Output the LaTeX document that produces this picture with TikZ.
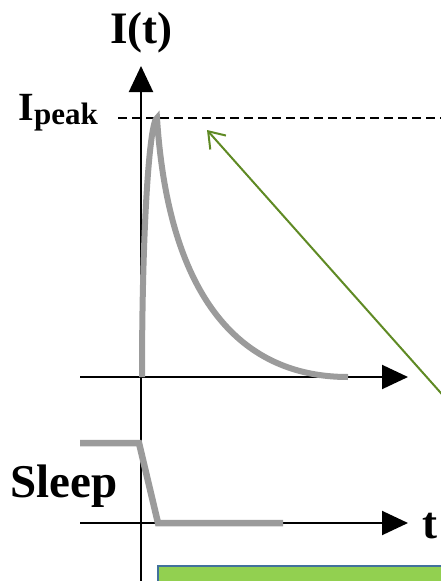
\documentclass[tikz,border=0pt]{standalone}
\usepackage{fontspec}
\setmainfont{Liberation Serif}
\usetikzlibrary{arrows.meta}
\definecolor{pulsegray}{HTML}{9B9B9B}
\definecolor{arrowgreen}{HTML}{5F8A24}
\definecolor{boxgreen}{HTML}{92D050}
\definecolor{boxblue}{HTML}{41719C}

\begin{document}
\begin{tikzpicture}[x=1pt, y=-1pt,
      ax/.style={line width=2pt, -{Triangle[length=26pt,width=24pt]}},
      sig/.style={draw=pulsegray, line width=6pt},
      lbl/.style={inner sep=0pt, font=\bfseries\fontsize{45}{50}\selectfont}]
    \useasboundingbox (0,0) rectangle (441,581);
    \clip (0,0) rectangle (441,581);
    % axes
    \coordinate (o) at (141,600);
    \coordinate (top) at (141,66);
    \coordinate (ua) at (80,377);
    \coordinate (ub) at (408,377);
    \coordinate (la) at (80,523);
    \coordinate (lb) at (408,523);
    \draw[ax] (o) -- (top);
    \draw[ax] (ua) -- (ub);
    \draw[ax] (la) -- (lb);
    % labels
    \node[lbl, anchor=base] (it) at (141.5,43) {I(t)};
    \node[lbl, anchor=base east, font=\bfseries\fontsize{40}{44}\selectfont] (ip) at (98,120)
      {I\raisebox{-4pt}{\fontsize{31}{31}\selectfont peak}};
    \node[lbl, anchor=base west, font=\bfseries\fontsize{47}{50}\selectfont] (sl) at (10,497) {Sleep};
    \node[lbl, anchor=base west] (t) at (422,538) {t};
    % peak level
    \coordinate (pa) at (118,118);
    \coordinate (pb) at (441,118);
    \draw[line width=2pt, dash pattern=on 9pt off 5pt] (pa) -- (pb);
    % current pulse
    \coordinate (p0) at (142,377);
    \coordinate (pk) at (157,118);
    \coordinate (p1) at (348,377);
    \draw[sig] (p0) .. controls (142,220) and (150,120) .. (pk)
      .. controls (168,290) and (235,377) .. (p1);
    % sleep signal
    \coordinate (s0) at (80,443);
    \coordinate (s1) at (139,443);
    \coordinate (s2) at (158,523);
    \coordinate (s3) at (283,523);
    \draw[sig, line width=6.5pt] (s0) -- (s1) -- (s2) -- (s3);
    % box and pointer
    \node[draw=boxblue, fill=boxgreen, line width=2pt, anchor=north west,
      minimum width=320pt, minimum height=40pt] (box) at (157,565) {};
    \coordinate (src) at (480,437);
    \coordinate (tip) at (207,130);
    \draw[arrowgreen, line width=2pt, -{Straight Barb[length=15pt,width=21pt]}] (src) -- (tip);
  \end{tikzpicture}
\end{document}
